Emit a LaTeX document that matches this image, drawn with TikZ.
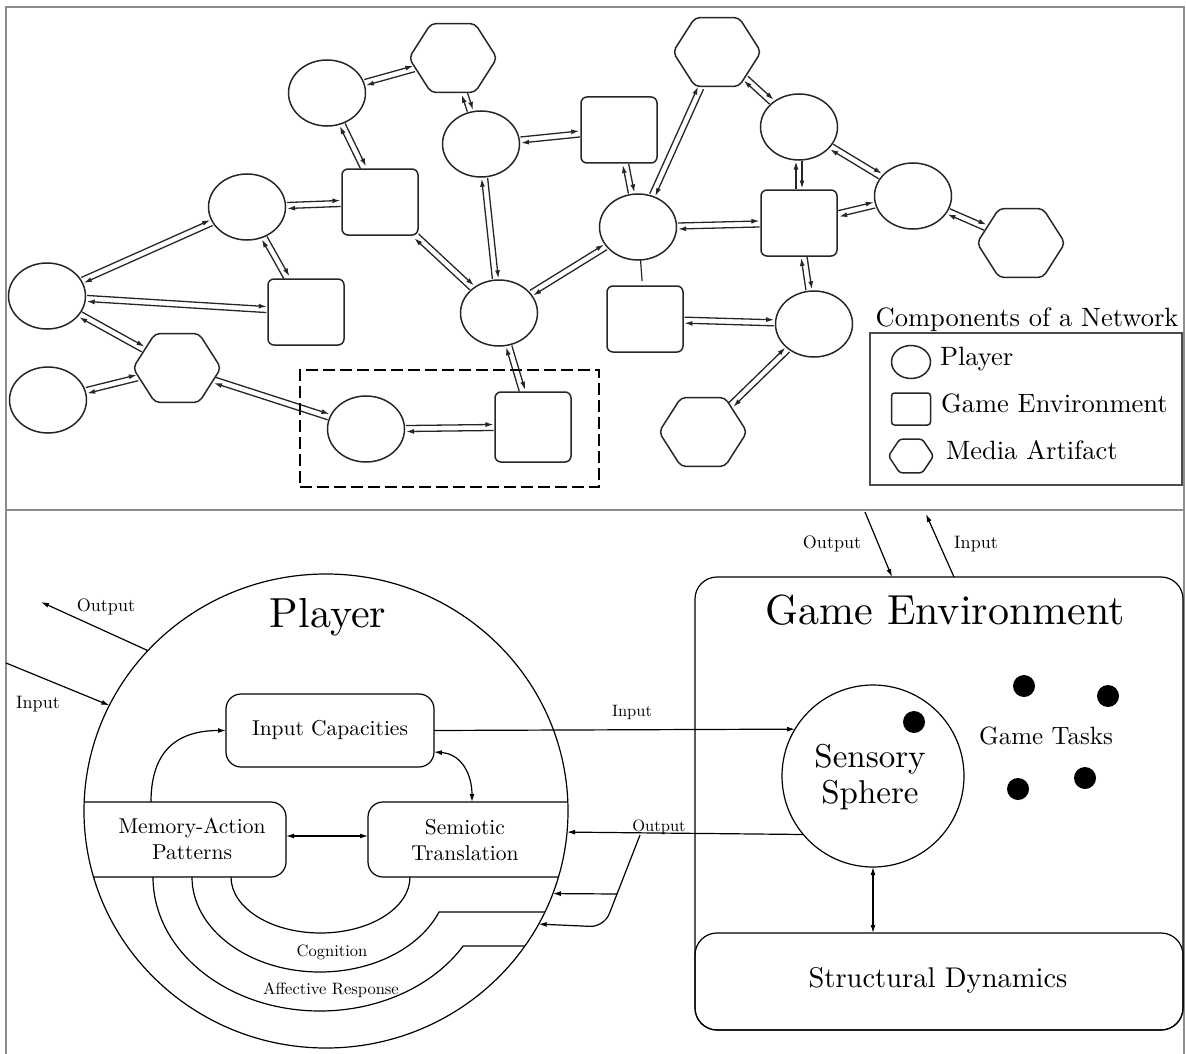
\documentclass[tikz,border=0pt]{standalone}
\usepackage{fontspec}
\setmainfont{lmroman10-regular.otf}
\usetikzlibrary{shapes.geometric,arrows.meta,calc}
\definecolor{linec}{HTML}{262626}
\definecolor{framec}{HTML}{8C8C8C}
\definecolor{legc}{HTML}{4A4A4A}
\newcommand\pairlink[2]{%
  \path (#1) -- (#2) coordinate[pos=0] (pa) coordinate[pos=1] (pb);
  \draw[netarrow] ($(pa)!3pt!90:(pb)$) -- ($(pb)!3pt!-90:(pa)$);
  \draw[netarrow] ($(pb)!3pt!90:(pa)$) -- ($(pa)!3pt!-90:(pb)$);
}
\begin{document}
\begin{tikzpicture}[x=1pt,y=-1pt,
  every node/.style={inner sep=0pt,outer sep=0pt},
  pl/.style={draw=linec,line width=1.5pt,ellipse,minimum width=77pt,minimum height=66pt},
  genv/.style={draw=linec,line width=1.5pt,rectangle,rounded corners=6pt,minimum width=76pt,minimum height=66pt},
  hexa/.style={draw=linec,line width=1.5pt,regular polygon,regular polygon sides=6,minimum size=88pt,rounded corners=5pt,yscale=0.905},
  netarrow/.style={draw=linec,line width=1.3pt,-{Latex[length=8pt,width=5pt]},shorten >=1.5pt,shorten <=1.5pt},
  arr/.style={line width=1.2pt,>={Latex[length=8pt,width=5pt]}},
  bline/.style={line width=1.2pt},
  rbox/.style={draw,line width=1.2pt,rounded corners=15pt},
  dot/.style={circle,fill=black,minimum size=22pt},
  lg/.style={font=\fontsize{26.5}{32}\selectfont},
  sm/.style={font=\fontsize{18}{21}\selectfont,anchor=base},
  smm/.style={font=\fontsize{16.5}{19}\selectfont,anchor=base},
]
\useasboundingbox (0,0) rectangle (1186,1054);
% frame
\draw[framec,line width=2.5pt] (6,1054) -- (6,7) -- (1184,7) -- (1184,1054);
\draw[framec,line width=2.5pt] (6,510) -- (1184,510);

% ---------------- network ----------------
\node[pl] (c1) at (327,93) {};
\node[pl] (c2) at (481,144) {};
\node[pl] (c3) at (247,207) {};
\node[pl] (c4) at (47,296) {};
\node[pl] (c5) at (48,400) {};
\node[pl] (c6) at (499,313) {};
\node[pl] (c7) at (638,227) {};
\node[pl] (c8) at (799,127) {};
\node[pl] (c9) at (913,196) {};
\node[pl] (c10) at (814,324) {};
\node[pl] (c11) at (366,429) {};
\node[genv] (s1) at (380,202) {};
\node[genv] (s2) at (619,130) {};
\node[genv] (s3) at (306,312) {};
\node[genv] (s4) at (799,223) {};
\node[genv] (s5) at (645,319) {};
\node[genv,minimum height=70pt] (s6) at (533,427) {};
\node[hexa] (h1) at (453,58) {};
\node[hexa] (h2) at (177,368) {};
\node[hexa] (h3) at (717,52) {};
\node[hexa] (h4) at (1021,243) {};
\node[hexa] (h5) at (703,432) {};

\pairlink{c1}{h1}
\pairlink{h1}{c2}
\pairlink{c1}{s1}
\pairlink{c2}{s2}
\pairlink{c2}{c6}
\pairlink{c3}{s1}
\pairlink{c3}{c4}
\pairlink{c3}{s3}
\pairlink{c4}{s3}
\pairlink{c4}{h2}
\pairlink{c5}{h2}
\pairlink{h2}{c11}
\pairlink{c11}{s6}
\pairlink{c6}{s6}
\pairlink{s1}{c6}
\pairlink{c6}{c7}
\pairlink{c7}{s2}
\pairlink{c7}{h3}
\pairlink{c7}{s4}
\pairlink{h3}{c8}
\pairlink{c8}{s4}
\pairlink{c8}{c9}
\pairlink{c9}{s4}
\pairlink{c9}{h4}
\pairlink{s4}{c10}
\pairlink{s5}{c10}
\pairlink{c10}{h5}
\draw[draw=linec,line width=1.2pt,shorten >=5pt] (c7) -- (s5);

\node[draw,line width=1.2pt,dash pattern=on 12pt off 5pt,minimum width=299pt,minimum height=117pt] (focus) at (449.5,428.5) {};

% legend
\node[lg,anchor=base] (legt) at (1027,326) {Components of a Network};
\node[draw=legc,line width=1.6pt,minimum width=312pt,minimum height=152pt] (leg) at (1026,409) {};
\node[pl,minimum width=39pt,minimum height=33pt] (lp) at (911,362) {};
\node[lg,anchor=base west] (lpt) at (940,365) {Player};
\node[genv,minimum width=39pt,minimum height=32pt,rounded corners=3pt] (lge) at (911,409) {};
\node[lg,anchor=base west] (lget) at (941,412) {Game Environment};
\node[hexa,minimum size=45pt,yscale=0.96,rounded corners=3pt] (lh) at (911,456) {};
\node[lg,anchor=base west] (lht) at (946,459) {Media Artifact};

% ---------------- player ----------------
\node[draw,ellipse,line width=1.2pt,minimum width=484pt,minimum height=474pt] (player) at (326,811) {};
\node[font=\fontsize{42}{50}\selectfont,anchor=base] (ptitle) at (328,627) {Player};
\node[rbox,minimum width=208pt,minimum height=73pt] (ic) at (330,730.5) {};
\node[font=\fontsize{21.5}{26}\selectfont,anchor=base] (ict) at (330,735) {Input Capacities};
\begin{scope}
  \clip (326,811) ellipse [x radius=242, y radius=237];
  \node[rbox,minimum width=226pt,minimum height=75pt] (mab) at (173,839.5) {};
  \node[rbox,minimum width=252pt,minimum height=75pt] (stb) at (494,839.5) {};
  \draw[bline] (231,877) arc[start angle=180,end angle=0,x radius=89.5,y radius=56];
  \draw[bline] (192,877) arc[start angle=180,end angle=21.6,x radius=128,y radius=95] -- (620,912);
  \draw[bline] (153,877) arc[start angle=180,end angle=31,x radius=167,y radius=134] -- (620,946);
\end{scope}
\node[font=\fontsize{21.5}{26}\selectfont,anchor=base] (mat1) at (192,833) {Memory-Action};
\node[font=\fontsize{21.5}{26}\selectfont,anchor=base] (mat2) at (192,859) {Patterns};
\node[font=\fontsize{21.5}{26}\selectfont,anchor=base] (stt1) at (465,834) {Semiotic};
\node[font=\fontsize{21.5}{26}\selectfont,anchor=base] (stt2) at (465,860) {Translation};
\node[smm] (cogt) at (332,956) {Cognition};
\node[smm] (afft) at (331,994) {Affective Response};

\draw[arr,<->] ([yshift=3.5pt]mab.east) -- ([yshift=3.5pt]stb.west);
\coordinate (mabtop) at (151,802);
\draw[arr,->] (mabtop) .. controls (151,748) and (180,730.5) .. (ic.west);
\coordinate (icr) at (434,752);
\coordinate (sttop) at (472,802);
\draw[arr,<->] (icr) .. controls (462,754) and (472,775) .. (sttop);

% player in / out
\coordinate (pin0) at (6,663);
\coordinate (pout0) at (41,602);
\draw[arr,->] (pin0) -- (player.154.8);
\draw[arr,->] (player.138) -- (pout0);
\node[sm] (poutt) at (106,611) {Output};
\node[sm] (pint) at (38,708) {Input};

% ---------------- game environment ----------------
\node[draw,line width=1.2pt,rounded corners=22pt,minimum width=488pt,minimum height=453pt] (ge) at (939,803.5) {};
\node[font=\fontsize{42}{50}\selectfont,anchor=base] (get) at (945,624) {Game Environment};
\node[draw,circle,line width=1.2pt,minimum size=182pt] (ss) at (873,776) {};
\node[font=\fontsize{33}{36}\selectfont,anchor=base] (sst1) at (870,767) {Sensory};
\node[font=\fontsize{33}{36}\selectfont,anchor=base] (sst2) at (870,803) {Sphere};
\node[dot] (t1) at (914,722) {};
\node[dot] (t2) at (1024,686) {};
\node[dot] (t3) at (1108,696) {};
\node[dot] (t4) at (1018,789) {};
\node[dot] (t5) at (1085,778) {};
\node[font=\fontsize{25}{30}\selectfont,anchor=base] (gtt) at (1046,744.5) {Game Tasks};
\node[draw,line width=1.2pt,rounded corners=22pt,minimum width=488pt,minimum height=97pt] (sd) at (939,981.5) {};
\node[font=\fontsize{28.5}{34}\selectfont,anchor=base] (sdt) at (938,987) {Structural Dynamics};
\draw[arr,<->] (ss.south) -- (ss.south |- sd.north);

% links between player and environment
\draw[arr,->] (ic.east) -- (ss.149.6);
\node[smm] (inmt) at (632,716) {Input};
\draw[arr,->] (ss.220.4) -- (player.-5.69);
\node[smm] (outmt) at (659,831) {Output};
\coordinate (br) at (640,835);
\coordinate (bk) at (617,894);
\draw[bline] (br) -- (bk);
\draw[arr,->] (bk) -- (player.-20.1);
\draw[arr,->,rounded corners=14pt] (bk) -- (604.1,927) -- (player.-28.8);

% environment top arrows
\coordinate (geo1) at (865,512);
\coordinate (geo2) at (892,577);
\coordinate (gei1) at (954,577);
\coordinate (gei2) at (926,514);
\draw[arr,->] (geo1) -- (geo2);
\draw[arr,->] (gei1) -- (gei2);
\node[sm] (geot) at (832,548) {Output};
\node[sm] (geit) at (976,548) {Input};
\end{tikzpicture}
\end{document}
